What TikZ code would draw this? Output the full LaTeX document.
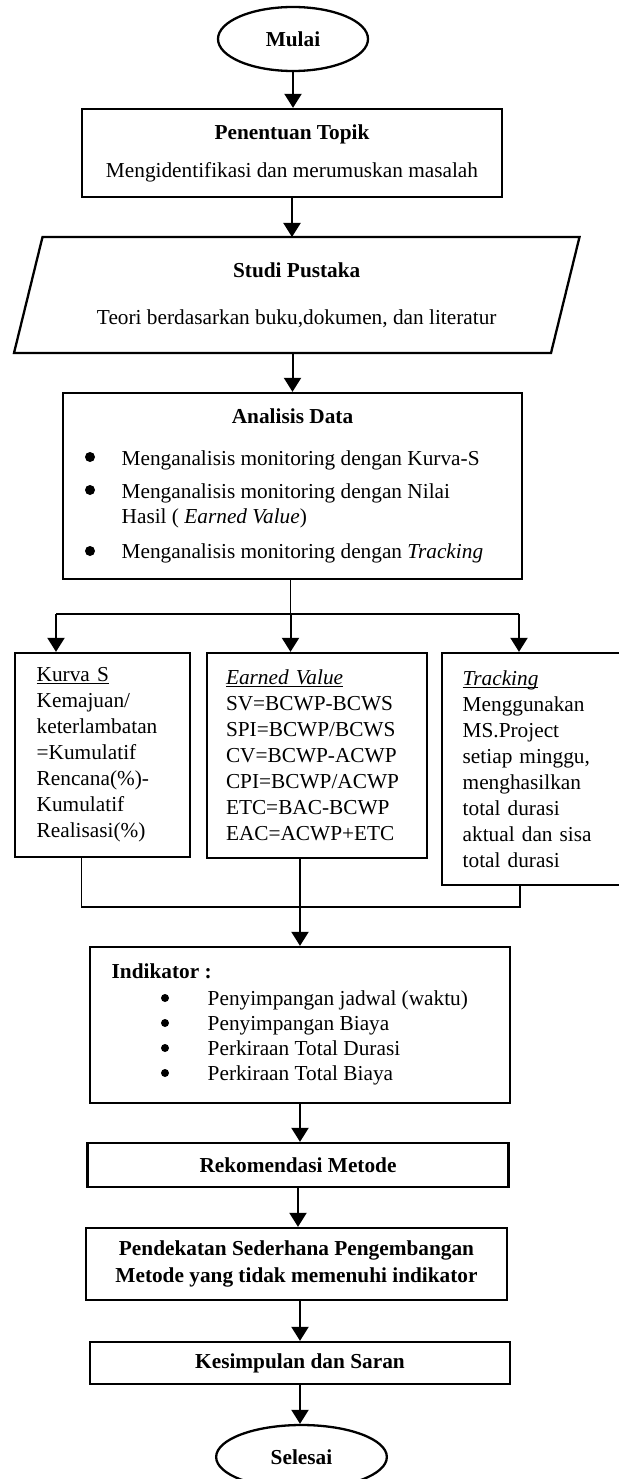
\documentclass[tikz,border=0pt]{standalone}
\usepackage{fontspec}
\setmainfont{Liberation Serif}
\usetikzlibrary{shapes.geometric, arrows.meta}
\hyphenpenalty=10000
\exhyphenpenalty=10000

\newcommand{\garisbawah}[1]{\leavevmode\setbox0\hbox{#1}\rlap{\rule[-2.5pt]{\wd0}{1pt}}\box0}

\tikzset{
  kotak/.style = {draw, rectangle, line width=2.3pt, inner ysep=0pt},
  elips/.style = {draw, ellipse, line width=2.3pt, inner sep=0pt},
  panah/.style = {line width=2pt, -{Triangle[width=17pt,length=14pt]}},
  garis/.style = {line width=1.3pt},
  teks/.style  = {inner sep=0pt, outer sep=0pt}
}

\begin{document}
\begin{tikzpicture}[x=1pt, y=-1pt, font=\fontsize{21.3}{26}\selectfont]
  \useasboundingbox (0,0) rectangle (618,1479);

  % Les formes du haut
  \node[elips, minimum width=150pt, minimum height=64pt] (mulai) at (293,39) {\textbf{Mulai}};
  \node[kotak, minimum width=420.5pt, minimum height=88pt, align=center] (topik) at (292,153)
    {\textbf{Penentuan Topik}\\[12pt]Mengidentifikasi dan merumuskan masalah};
  \node[teks, minimum width=537pt, minimum height=116pt, align=center] (studi) at (296.75,295)
    {\textbf{Studi Pustaka}\\[21pt]Teori berdasarkan buku,dokumen, dan literatur};
  \draw[line width=2.3pt] ([xshift=14.25pt]studi.north west) -- ([xshift=14.25pt]studi.north east)
    -- ([xshift=-14.25pt]studi.south east) -- ([xshift=-14.25pt]studi.south west) -- cycle;

  % Analisis Data
  \node[kotak, minimum width=459pt, minimum height=186pt] (analisis) at (292.5,486) {};
  \node[teks, anchor=base] (judulAnalisis) at (292.5,423) {\textbf{Analisis Data}};
  \node[teks, anchor=base west] (analisisA) at (121.7,465) {Menganalisis monitoring dengan Kurva-S};
  \node[teks, anchor=base west] (analisisB) at (121.7,498) {Menganalisis monitoring dengan Nilai};
  \node[teks, anchor=base west] (analisisB2) at (121.7,523.5) {Hasil ( \textit{Earned Value})};
  \node[teks, anchor=base west] (analisisC) at (121.7,558) {Menganalisis monitoring dengan \textit{Tracking}};
  \fill (90,457) circle (5pt);
  \fill (90,490) circle (5pt);
  \fill (90,551) circle (5pt);

  % Les trois méthodes
  \node[kotak, minimum height=204pt, text width=131.6pt, inner xsep=21.7pt, align=left] (kurva) at (102.5,755)
    {\garisbawah{Kurva S}\\Kemajuan/\\keterlambatan\\=Kumulatif\\Rencana(\%)-\\Kumulatif\\Realisasi(\%)};
  \node[kotak, minimum height=205pt, text width=182pt, inner xsep=19pt, align=left] (ev) at (317,755.5)
    {\garisbawah{\textit{Earned Value}}\\SV=BCWP-BCWS\\SPI=BCWP/BCWS\\CV=BCWP-ACWP\\CPI=BCWP/ACWP\\ETC=BAC-BCWP\\EAC=ACWP+ETC};
  \node[kotak, minimum height=232pt, text width=138.3pt, inner xsep=21pt, align=left] (tracking) at (531.85,769)
    {\garisbawah{\textit{Tracking}}\\Menggunakan\\MS.Project\\setiap minggu,\\menghasilkan\\total durasi\\aktual dan sisa\\total durasi};

  % Indikator
  \node[kotak, minimum width=420pt, minimum height=156pt] (indikator) at (300,1025) {};
  \node[teks, anchor=base west] (judulIndikator) at (111.7,978) {\textbf{Indikator :}};
  \node[teks, anchor=base west] (indikatorA) at (207.7,1005) {Penyimpangan jadwal (waktu)};
  \node[teks, anchor=base west] (indikatorB) at (207.7,1030) {Penyimpangan Biaya};
  \node[teks, anchor=base west] (indikatorC) at (207.7,1055) {Perkiraan Total Durasi};
  \node[teks, anchor=base west] (indikatorD) at (207.7,1080) {Perkiraan Total Biaya};
  \fill (165,998) circle (4pt);
  \fill (165,1023) circle (4pt);
  \fill (165,1048) circle (4pt);
  \fill (165,1073) circle (4pt);

  % Les formes du bas
  \node[kotak, minimum width=421pt, minimum height=44pt] (rekomendasi) at (298,1165) {\textbf{Rekomendasi Metode}};
  \node[kotak, minimum width=421pt, minimum height=72pt, align=center, font=\fontsize{21.3}{27}\selectfont\bfseries] (pendekatan) at (296.5,1264)
    {Pendekatan Sederhana Pengembangan\\Metode yang tidak memenuhi indikator};
  \node[kotak, minimum width=420pt, minimum height=42pt] (kesimpulan) at (300,1363) {\textbf{Kesimpulan dan Saran}};
  \node[elips, minimum width=170.7pt, minimum height=64pt] (selesai) at (301.5,1457) {\textbf{Selesai}};

  % Les points de branchement
  \coordinate (cabang) at (290.5,614);
  \coordinate (cabangKiri) at (56,614);
  \coordinate (cabangKanan) at (519,614);
  \coordinate (gabung) at (300,907);
  \coordinate (gabungKiri) at (81.7,907);
  \coordinate (gabungKanan) at (520,907);

  % Les flèches
  \draw[panah] (mulai) -- (mulai |- topik.north);
  \draw[panah] (topik.south) -- (topik.south |- studi.north);
  \draw[panah] (analisis.north |- studi.south) -- (analisis.north);
  \draw[garis] (cabang |- analisis.south) -- (cabang);
  \draw[garis] (cabangKiri) -- (cabangKanan);
  \draw[panah] (cabangKiri) -- (cabangKiri |- kurva.north);
  \draw[panah] (cabang) -- (cabang |- ev.north);
  \draw[panah] (cabangKanan) -- (cabangKanan |- tracking.north);
  \draw[garis] (kurva.south -| gabungKiri) -- (gabungKiri) -- (gabungKanan) -- (tracking.south -| gabungKanan);
  \draw[garis] (ev.south -| gabung) -- (gabung);
  \draw[panah] (gabung) -- (indikator.north -| gabung);
  \draw[panah] (indikator.south) -- (indikator.south |- rekomendasi.north);
  \draw[panah] (rekomendasi.south) -- (rekomendasi.south |- pendekatan.north);
  \draw[panah] (kesimpulan.north |- pendekatan.south) -- (kesimpulan.north);
  \draw[panah] (kesimpulan.south) -- (kesimpulan.south |- selesai.north);
\end{tikzpicture}
\end{document}
